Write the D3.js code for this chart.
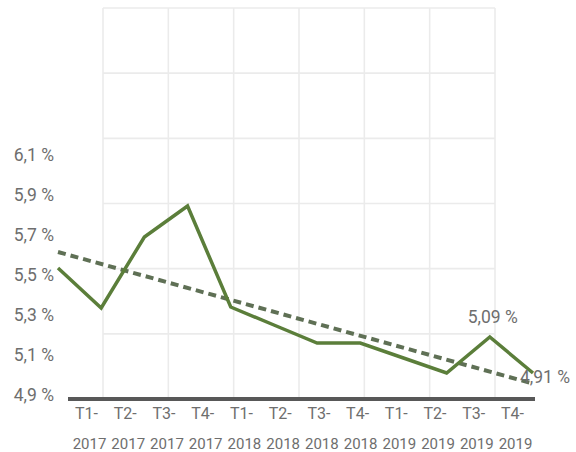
<!DOCTYPE html>
<html>
<head>
<meta charset="utf-8">
<script src="https://cdn.jsdelivr.net/npm/d3@7"></script>
<style>
  html, body { margin: 0; padding: 0; background: #ffffff; }
  svg { display: block; font-family: Roboto, "DejaVu Sans", sans-serif; }
</style>
</head>
<body>
<svg id="chart" width="576" height="452"></svg>
<script>
// Quarterly rate, 2017–2019
const quarters = ["T1-", "T2-", "T3-", "T4-", "T1-", "T2-", "T3-", "T4-", "T1-", "T2-", "T3-", "T4-"];
const years    = ["2017", "2017", "2017", "2017", "2018", "2018", "2018", "2018", "2019", "2019", "2019", "2019"];
const categories = quarters.map((q, i) => q + years[i]);
const rates = [5.435, 5.235, 5.59, 5.745, 5.24, 5.15, 5.06, 5.06, 4.985, 4.91, 5.09, 4.91];
// Trend line, value at first and last quarter
const trendValues = [5.515, 4.857];
// Y axis ticks
const yTicks = [4.9, 5.1, 5.3, 5.5, 5.7, 5.9, 6.1];
// Quarters carrying a value label
const labelled = ["T3-2019", "T4-2019"];

const svg = d3.select("#chart");
const fmt = v => v.toFixed(2).replace(".", ",") + " %";
const fmtTick = v => v.toFixed(1).replace(".", ",") + " %";

const green = "#5b7e3a";
const trendColor = "#5f7055";
const textColor = "#6e6e6e";

// Scales
const x = d3.scalePoint().domain(categories).range([58, 533]);
const xLabels = d3.scalePoint().domain(categories).range([89, 515]);
const y = d3.scaleLinear().domain([4.9, 6.1]).range([375, 135]);

// Background grid
const gx = d3.scaleLinear().domain([0, 6]).range([103, 495]);
const gy = d3.scaleLinear().domain([0, 6]).range([399, 8]);
const grid = svg.append("g").attr("stroke", "#ebebeb").attr("stroke-width", 1.6);
grid.selectAll("line.v").data(d3.range(7)).join("line")
  .attr("class", "v")
  .attr("x1", d => gx(d)).attr("x2", d => gx(d))
  .attr("y1", gy(6)).attr("y2", gy(0));
grid.selectAll("line.h").data(d3.range(1, 7)).join("line")
  .attr("class", "h")
  .attr("x1", gx(0)).attr("x2", gx(6))
  .attr("y1", d => gy(d)).attr("y2", d => gy(d));

// Y axis labels
const yAxis = svg.append("g")
  .attr("transform", "translate(54,20)")
  .call(d3.axisLeft(y).tickValues(yTicks).tickFormat(fmtTick).tickSize(0).tickPadding(0));
yAxis.select(".domain").remove();
yAxis.selectAll("text")
  .attr("fill", textColor)
  .style("font-size", "17.5px")
  .style("font-family", "Roboto, sans-serif");

// Baseline
svg.append("line")
  .attr("x1", 68).attr("x2", 535)
  .attr("y1", 399).attr("y2", 399)
  .attr("stroke", "#585858")
  .attr("stroke-width", 4);

// X axis labels (two lines)
const xAxis = svg.append("g")
  .attr("transform", "translate(0,401)")
  .call(d3.axisBottom(xLabels).tickSize(0).tickFormat(() => ""));
xAxis.select(".domain").remove();
xAxis.selectAll(".tick text").each(function (d, i) {
  const t = d3.select(this)
    .attr("fill", textColor)
    .attr("y", 0)
    .attr("dy", null)
    .style("font-size", "15px")
    .style("font-family", "Roboto, sans-serif");
  t.append("tspan").attr("x", -3).style("font-size", "16px").attr("y", 18).text(quarters[i]);
  t.append("tspan").attr("x", 0).attr("y", 48).text(years[i]);
});

// Trend line
const trendLine = d3.line()
  .x(d => x(d.c))
  .y(d => y(d.v));
svg.append("path")
  .datum([
    { c: categories[0], v: trendValues[0] },
    { c: categories[categories.length - 1], v: trendValues[1] }
  ])
  .attr("d", trendLine)
  .attr("fill", "none")
  .attr("stroke", trendColor)
  .attr("stroke-width", 4)
  .attr("stroke-dasharray", "8,5");

// Rate line
const data = categories.map((c, i) => ({ c, v: rates[i] }));
svg.append("path")
  .datum(data)
  .attr("d", d3.line().x(d => x(d.c)).y(d => y(d.v)))
  .attr("fill", "none")
  .attr("stroke", green)
  .attr("stroke-width", 3.5)
  .attr("stroke-linejoin", "miter");

// Value labels
const lab = data.filter(d => labelled.includes(d.c));
svg.selectAll("text.value").data(lab).join("text")
  .attr("class", "value")
  .attr("x", (d, i) => i === 0 ? x(d.c) + 3 : x(d.c) - 13)
  .attr("y", (d, i) => i === 0 ? y(d.v) - 14 : y(d.v) + 10)
  .attr("text-anchor", (d, i) => i === 0 ? "middle" : "start")
  .attr("fill", textColor)
  .style("font-size", "17.5px")
  .text(d => fmt(d.v));
</script>
</body>
</html>
